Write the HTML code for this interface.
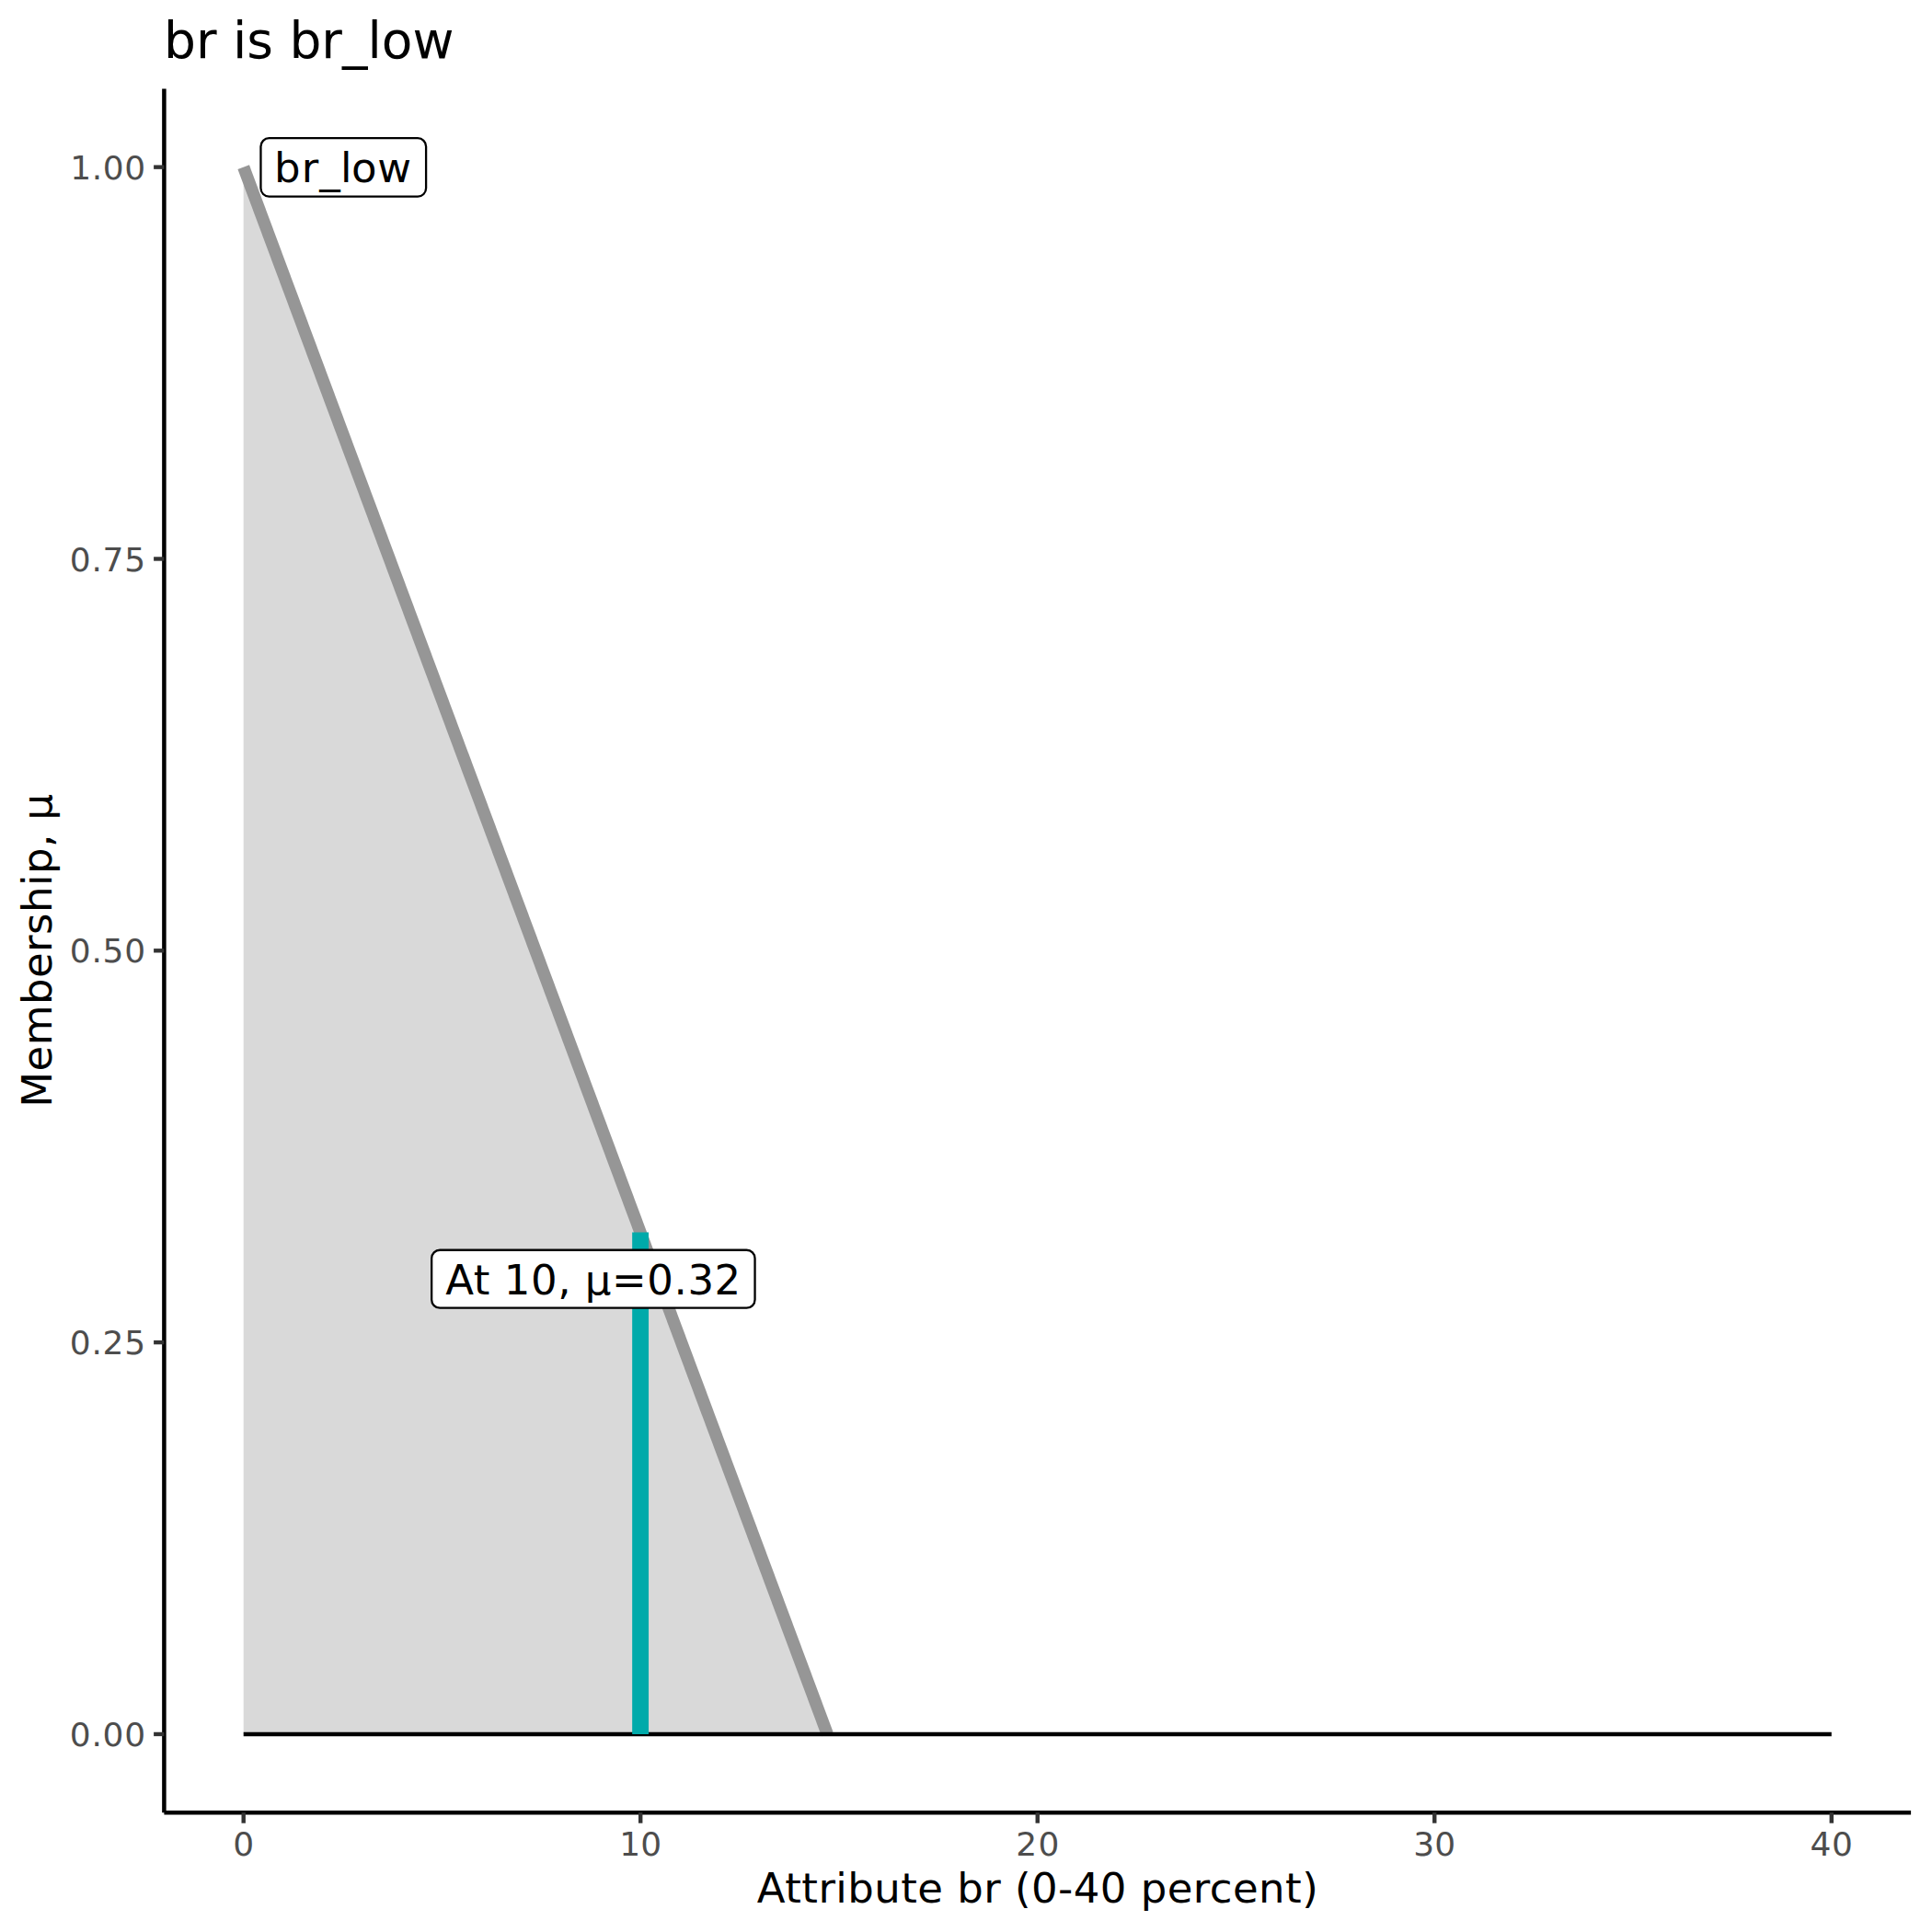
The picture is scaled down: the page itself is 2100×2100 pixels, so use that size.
<!DOCTYPE html>
<html lang="en"><head><meta charset="utf-8"><title>br is br_low</title>
<style>html,body{margin:0;padding:0;background:#fff}body{width:2100px;height:2100px;overflow:hidden}svg{display:block}text{font-family:"DejaVu Sans", "Liberation Sans", sans-serif}</style></head><body>
<svg width="2100" height="2100" viewBox="0 0 2100 2100">
<rect width="2100" height="2100" fill="#fff"/>
<polygon points="264.70,181.65 899.29,1884.95 264.70,1884.95" fill="#D9D9D9"/>
<line x1="264.70" y1="181.65" x2="899.29" y2="1884.95" stroke="#969696" stroke-width="13.34"/>
<line x1="264.70" y1="1884.95" x2="1990.78" y2="1884.95" stroke="#000" stroke-width="4.4"/>
<line x1="696.12" y1="1339.50" x2="696.12" y2="1884.95" stroke="#00AAAA" stroke-width="17.9"/>
<rect x="283.45" y="150.20" width="179.65" height="63.40" rx="9" ry="9" fill="#fff" stroke="#000" stroke-width="2.3"/>
<text x="297.90" y="198.00" font-size="45" fill="#000" letter-spacing="0.45" dx="0 0.9 0.6 -0.3 -0.9 0.1">br_low</text>
<rect x="469.15" y="1358.75" width="351.40" height="62.95" rx="9" ry="9" fill="#fff" stroke="#000" stroke-width="2.3"/>
<text x="484.15" y="1407.10" font-size="45" fill="#000" letter-spacing="0.56">At 10, μ=0.32</text>
<line x1="178.40" y1="96.50" x2="178.40" y2="1970.20" stroke="#000" stroke-width="4.5"/>
<line x1="178.40" y1="1970.20" x2="2077.10" y2="1970.20" stroke="#000" stroke-width="4.5"/>
<line x1="167.10" y1="1884.95" x2="178.40" y2="1884.95" stroke="#333" stroke-width="4.4"/>
<text x="158.97" y="1898.00" font-size="36" fill="#4D4D4D" text-anchor="end" letter-spacing="0.77">0.00</text>
<line x1="167.10" y1="1459.12" x2="178.40" y2="1459.12" stroke="#333" stroke-width="4.4"/>
<text x="158.97" y="1472.00" font-size="36" fill="#4D4D4D" text-anchor="end" letter-spacing="0.77">0.25</text>
<line x1="167.10" y1="1033.30" x2="178.40" y2="1033.30" stroke="#333" stroke-width="4.4"/>
<text x="158.97" y="1046.00" font-size="36" fill="#4D4D4D" text-anchor="end" letter-spacing="0.77">0.50</text>
<line x1="167.10" y1="607.48" x2="178.40" y2="607.48" stroke="#333" stroke-width="4.4"/>
<text x="158.97" y="621.00" font-size="36" fill="#4D4D4D" text-anchor="end" letter-spacing="0.77">0.75</text>
<line x1="167.10" y1="181.65" x2="178.40" y2="181.65" stroke="#333" stroke-width="4.4"/>
<text x="158.80" y="195.00" font-size="36" fill="#4D4D4D" text-anchor="end" letter-spacing="0.60">1.00</text>
<line x1="264.70" y1="1970.20" x2="264.70" y2="1981.70" stroke="#333" stroke-width="4.4"/>
<text x="264.70" y="2017.00" font-size="36" fill="#4D4D4D" text-anchor="middle">0</text>
<line x1="696.22" y1="1970.20" x2="696.22" y2="1981.70" stroke="#333" stroke-width="4.4"/>
<text x="696.32" y="2017.00" font-size="36" fill="#4D4D4D" text-anchor="middle" letter-spacing="0.20">10</text>
<line x1="1127.74" y1="1970.20" x2="1127.74" y2="1981.70" stroke="#333" stroke-width="4.4"/>
<text x="1128.44" y="2017.00" font-size="36" fill="#4D4D4D" text-anchor="middle" letter-spacing="1.40">20</text>
<line x1="1559.26" y1="1970.20" x2="1559.26" y2="1981.70" stroke="#333" stroke-width="4.4"/>
<text x="1559.36" y="2017.00" font-size="36" fill="#4D4D4D" text-anchor="middle" letter-spacing="0.20">30</text>
<line x1="1990.78" y1="1970.20" x2="1990.78" y2="1981.70" stroke="#333" stroke-width="4.4"/>
<text x="1991.03" y="2017.00" font-size="36" fill="#4D4D4D" text-anchor="middle" letter-spacing="0.50">40</text>
<text x="178.00" y="63.00" font-size="55" fill="#000">br is br_low</text>
<text x="1127.97" y="2068.00" font-size="45" fill="#000" text-anchor="middle" letter-spacing="0.45">Attribute br (0-40 percent)</text>
<text transform="translate(56.00,1033.35) rotate(-90)" font-size="45" fill="#000" text-anchor="middle" letter-spacing="0.45" x="0.22">Membership, μ</text>
</svg></body></html>
